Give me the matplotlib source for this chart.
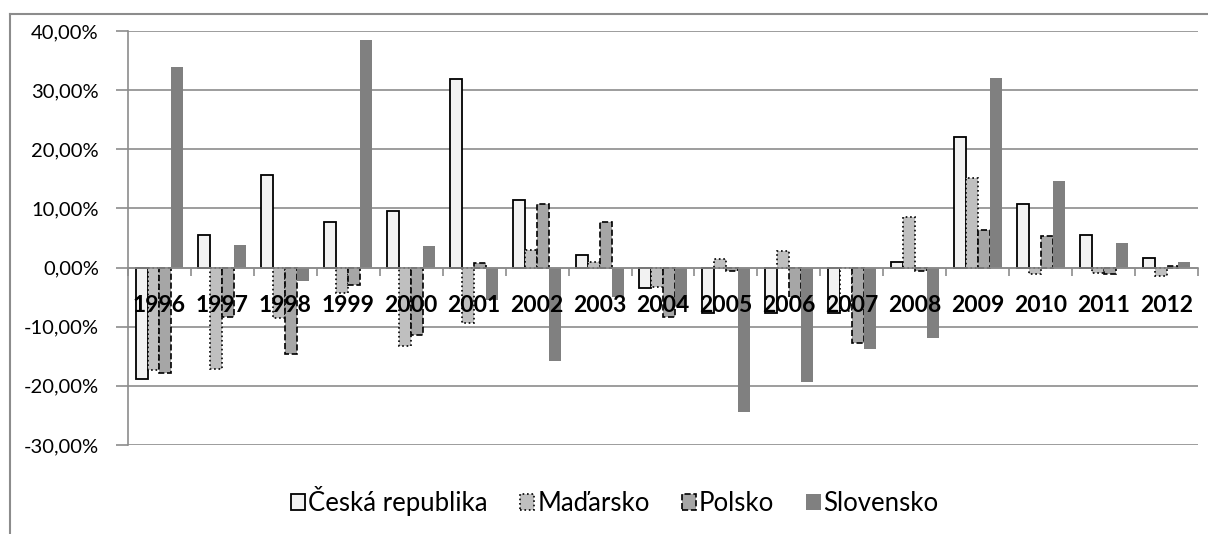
import matplotlib
matplotlib.use('Agg')
import matplotlib.pyplot as plt
import numpy as np
from matplotlib.lines import Line2D
from matplotlib.patches import Patch
from matplotlib.ticker import FuncFormatter, MultipleLocator

# Data (annual change, %)
years = ['1996', '1997', '1998', '1999', '2000', '2001', '2002', '2003', '2004',
         '2005', '2006', '2007', '2008', '2009', '2010', '2011', '2012']
ceska_republika = [-18.8, 5.5, 15.7, 7.7, 9.5, 31.8, 11.5, 2.1, -3.5,
                   -7.7, -7.7, -7.6, 0.9, 22.0, 10.7, 5.5, 1.7]
madarsko = [-17.3, -17.2, -8.5, -4.3, -13.3, -9.4, 2.9, 1.0, -3.3,
            1.5, 2.8, -7.4, 8.6, 15.1, -1.1, -0.9, -1.5]
polsko = [-17.8, -8.3, -14.6, -2.9, -11.4, 0.8, 10.8, 7.7, -8.3,
          -0.6, -5.0, -12.7, -0.5, 6.3, 5.3, -1.1, 0.2]
slovensko = [33.9, 3.9, -2.2, 38.5, 3.7, -5.5, -15.8, -5.0, -6.5,
             -24.4, -19.3, -13.7, -11.9, 32.1, 14.7, 4.1, 1.0]

series_names = ['Česká republika', 'Maďarsko', 'Polsko', 'Slovensko']
series_values = [ceska_republika, madarsko, polsko, slovensko]

plt.rcParams['font.family'] = ['Lato', 'DejaVu Sans']

# styles for each series: fill, edge, linestyle, linewidth
styles = [
    dict(facecolor='#f2f2f2', edgecolor='black', linestyle='-', linewidth=1.3),
    dict(facecolor='#bfbfbf', edgecolor='black', linestyle=':', linewidth=1.2),
    dict(facecolor='#a6a6a6', edgecolor='black', linestyle='--', linewidth=1.2),
    dict(facecolor='#808080', edgecolor='none', linestyle='-', linewidth=0),
]

fig = plt.figure(figsize=(12.08, 5.34), dpi=100)
ax = fig.add_axes([128 / 1208, 1 - 445 / 534, 1070 / 1208, 414 / 534])

x = np.arange(len(years))
bar_w = 0.19
for i, (name, vals) in enumerate(zip(series_names, series_values)):
    bars = ax.bar(x + (i - 1.5) * bar_w, vals, width=bar_w, label=name,
                  zorder=3, **styles[i])
    if name == 'Maďarsko':
        # 2007 bar is drawn without fill in the original
        bars[years.index('2007')].set_facecolor('white')

ax.set_xlim(-0.5, len(years) - 0.5)
ax.set_ylim(-30, 40)
ax.yaxis.set_major_locator(MultipleLocator(10))
ax.yaxis.set_major_formatter(FuncFormatter(lambda v, p: f'{v:.2f}'.replace('.', ',') + '%'))
ax.grid(axis='y', color='#8c8c8c', linewidth=1.2, zorder=0)
ax.set_axisbelow(True)

for s in ['top', 'right']:
    ax.spines[s].set_visible(False)
ax.spines['left'].set_color('#8c8c8c')
ax.spines['left'].set_linewidth(1.2)
ax.spines['bottom'].set_position(('data', 0))
ax.spines['bottom'].set_color('#8c8c8c')
ax.spines['bottom'].set_linewidth(1.2)
ax.spines['bottom'].set_zorder(4)

ax.tick_params(axis='y', length=9, width=1.2, color='#8c8c8c', pad=12,
               labelsize=14.5, labelcolor='black')

# tick marks at category boundaries, labels drawn over the bars
ax.set_xticks([])
ax.set_xticks(np.arange(len(years) + 1) - 0.5, minor=True)
ax.tick_params(axis='x', which='minor', length=6, width=1.2, color='#8c8c8c')
for xi, yr in zip(x, years):
    ax.annotate(yr, xy=(xi, 0), xytext=(0, -27.5), textcoords='offset points',
                ha='center', va='center', fontsize=16.5, fontweight='bold',
                zorder=6, annotation_clip=False)

# legend
handles = [Patch(label=n, **st) for n, st in zip(series_names, styles)]
fig.legend(handles=handles, loc='center', bbox_to_anchor=(615 / 1208, 1 - 501 / 534),
           ncol=4, frameon=False, fontsize=18.5, handlelength=0.55,
           handleheight=0.55, handletextpad=0.12, columnspacing=1.25)

# outer chart border (cut off right and bottom)
fig.add_artist(Line2D([10 / 1208, 1.0], [1 - 14 / 534, 1 - 14 / 534],
                      transform=fig.transFigure, color='#8c8c8c', linewidth=1.5))
fig.add_artist(Line2D([10 / 1208, 10 / 1208], [0, 1 - 14 / 534],
                      transform=fig.transFigure, color='#8c8c8c', linewidth=1.5))

fig.savefig('out.png', dpi=100)
